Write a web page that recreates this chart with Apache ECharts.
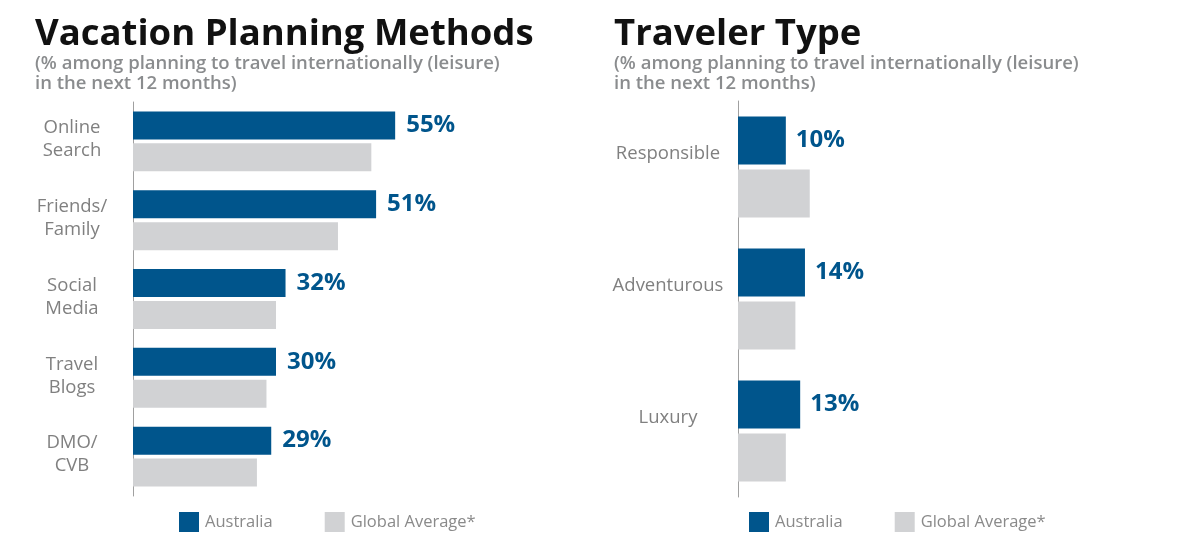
<!DOCTYPE html>
<html>
<head>
<meta charset="utf-8">
<script src="https://cdn.jsdelivr.net/npm/echarts@6/dist/echarts.min.js"></script>
<style>
  html, body { margin: 0; padding: 0; background: #fff; }
  #chart { width: 1200px; height: 546px; }
</style>
</head>
<body>
<div id="chart"></div>
<script>
// left panel: vacation planning methods
const methodCategories = ['Online\nSearch', 'Friends/\nFamily', 'Social\nMedia', 'Travel\nBlogs', 'DMO/\nCVB']
const methodAustralia = [55, 51, 32, 30, 29]
const methodGlobal = [50, 43, 30, 28, 26]

// right panel: traveler type
const typeCategories = ['Responsible', 'Adventurous', 'Luxury']
const typeAustralia = [10, 14, 13]
const typeGlobal = [15, 12, 10]

const seriesNames = ['Australia', 'Global Average*']

const BLUE = '#00558c'
const GREY = '#d1d2d4'
const FONT = 'Open Sans'

const chart = echarts.init(document.getElementById('chart'))

const subtitle = '(% among planning to travel internationally (leisure)\nin the next 12 months)'

function legendFor(left) {
  return {
    left: left, top: 507,
    itemWidth: 20, itemHeight: 20, itemGap: 52,
    icon: 'rect',
    textStyle: { fontFamily: FONT, fontSize: 16.5, color: '#8a8a8a', padding: [0, 0, 0, 1] },
    data: seriesNames
  }
}

function labelStyle(dist) {
  return {
    show: true, position: 'right', distance: dist,
    formatter: '{c}%',
    fontFamily: FONT, fontWeight: 'bold', fontSize: 24, color: BLUE
  }
}

function titleFor(text, left) {
  return {
    text: text, subtext: subtitle,
    left: left, top: 11, itemGap: 1,
    textStyle: { fontFamily: FONT, fontWeight: 'bold', fontSize: 36.5, color: '#111' },
    subtextStyle: { fontFamily: FONT, fontWeight: 600, fontSize: 18.5, lineHeight: 20, color: '#8a8c8e' }
  }
}

chart.setOption({
  animation: false,
  title: [titleFor('Vacation Planning Methods', 30), titleFor('Traveler Type', 609)],
  legend: [legendFor(174), legendFor(744)],
  grid: [
    { left: 133, top: 102, width: 286, height: 394 },
    { left: 738, top: 101, width: 287, height: 396 }
  ],
  xAxis: [
    { type: 'value', gridIndex: 0, min: 0, max: 60, show: false },
    { type: 'value', gridIndex: 1, min: 0, max: 60, show: false }
  ],
  yAxis: [
    {
      type: 'category', gridIndex: 0, inverse: true, data: methodCategories,
      axisLine: { lineStyle: { color: '#a0a0a0', width: 1 } },
      axisTick: { show: false },
      axisLabel: {
        align: 'center', margin: 61,
        formatter: v => v + '\n{s|}',
        rich: { s: { lineHeight: 4 } },
        fontFamily: FONT, fontSize: 18.5, lineHeight: 23, color: '#808080'
      }
    },
    {
      type: 'category', gridIndex: 1, inverse: true, data: typeCategories,
      axisLine: { lineStyle: { color: '#a0a0a0', width: 1 } },
      axisTick: { show: false },
      axisLabel: {
        align: 'center', margin: 70, lineHeight: 27,
        formatter: v => v + '\n',
        fontFamily: FONT, fontSize: 18.5, color: '#808080'
      }
    }
  ],
  series: [
    {
      name: seriesNames[0], type: 'bar', xAxisIndex: 0, yAxisIndex: 0,
      data: methodAustralia, barWidth: 28, barGap: '14%',
      itemStyle: { color: BLUE }, label: labelStyle(11)
    },
    {
      name: seriesNames[1], type: 'bar', xAxisIndex: 0, yAxisIndex: 0,
      data: methodGlobal, barWidth: 28, barGap: '14%',
      itemStyle: { color: GREY }
    },
    {
      name: seriesNames[0], type: 'bar', xAxisIndex: 1, yAxisIndex: 1,
      data: typeAustralia, barWidth: 48, barGap: '10%',
      itemStyle: { color: BLUE }, label: labelStyle(10)
    },
    {
      name: seriesNames[1], type: 'bar', xAxisIndex: 1, yAxisIndex: 1,
      data: typeGlobal, barWidth: 48, barGap: '10%',
      itemStyle: { color: GREY }
    }
  ]
})
</script>
</body>
</html>
